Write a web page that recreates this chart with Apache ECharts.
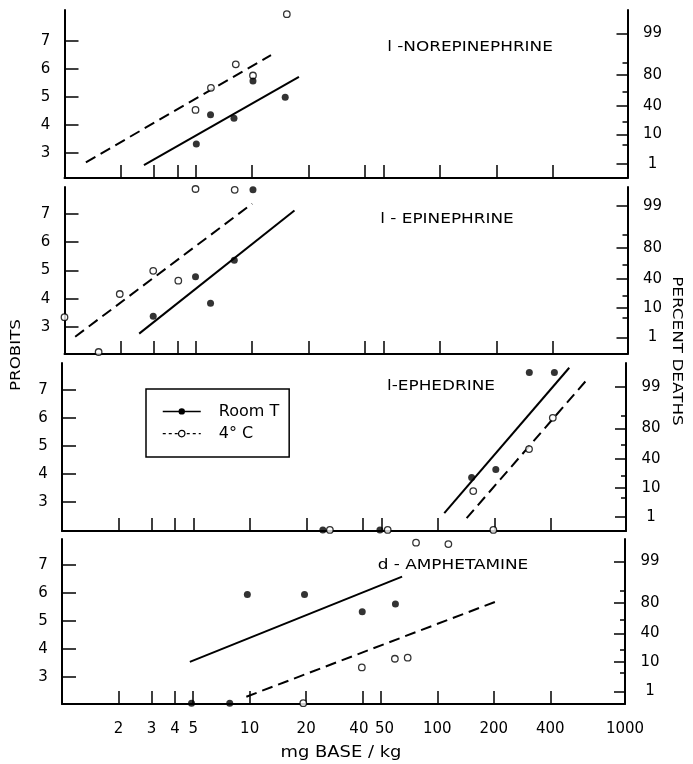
<!DOCTYPE html>
<html><head><meta charset="utf-8">
<script src="https://cdn.jsdelivr.net/npm/echarts@6/dist/echarts.min.js"></script>
<style>html,body{margin:0;padding:0;background:#fff}#c{width:693px;height:764px}</style>
</head><body><div id="c"></div>
<script>
// ---------- data (dose mg base/kg, probit) ----------
const panelNames = ['l -NOREPINEPHRINE', 'l - EPINEPHRINE', 'l-EPHEDRINE', 'd - AMPHETAMINE'];

const norepiRoomT = [[5.04,3.31],[6.0,4.36],[8.0,4.23],[10.1,5.56],[15.0,4.98]];
const norepiCold  = [[4.99,4.53],[6.03,5.32],[8.18,6.16],[10.1,5.76],[15.3,7.95]];
const norepiFitRoomT = [[2.65,2.56],[17.75,5.71]];
const norepiFitCold  = [[1.30,2.66],[12.6,6.49]];

const epiRoomT = [[2.97,3.38],[4.99,4.78],[6.0,3.84],[8.03,5.36],[10.1,7.85]];
const epiCold  = [[1.0,3.35],[1.52,2.12],[1.97,4.17],[2.97,4.99],[4.04,4.64],[4.99,7.88],[8.07,7.85]];
const epiFitRoomT = [[2.5,2.77],[16.8,7.12]];
const epiFitCold  = [[1.14,2.66],[10.0,7.36]];

const ephRoomT = [[24.4,2.0],[49.1,2.0],[151,3.87],[203,4.16],[306,7.63],[416,7.63]];
const ephCold  = [[26.6,2.0],[54,2.0],[154,3.39],[197,2.0],[305,4.89],[408,6.01]];
const ephFitRoomT = [[108,2.60],[499,7.80]];
const ephFitCold  = [[142,2.42],[623,7.39]];

const amphRoomT = [[4.9,2.05],[7.83,2.05],[9.72,5.94],[19.6,5.94],[39.8,5.32],[59.8,5.60]];
const amphCold  = [[19.3,2.05],[39.6,3.33],[59.4,3.64],[69.5,3.68],[77,7.80],[114.5,7.75]];
const amphFitRoomT = [[4.8,3.53],[64.9,6.58]];
const amphFitCold  = [[9.6,2.28],[203.6,5.68]];

const doseTicks  = [2,3,4,5,10,20,40,50,100,200,400];
const doseLabels = [2,3,4,5,10,20,40,50,100,200,400,1000];
const probitTicks = [3,4,5,6,7];
const percentLabels  = [1,10,40,80,99];
const percentProbits = [2.674,3.718,4.747,5.842,7.326];
const minorPercents  = [5,20,60,90];
const minorProbits   = [3.355,4.158,5.253,6.282];

const roomTSets = [norepiRoomT, epiRoomT, ephRoomT, amphRoomT];
const coldSets  = [norepiCold, epiCold, ephCold, amphCold];
const fitRoomTSets = [norepiFitRoomT, epiFitRoomT, ephFitRoomT, amphFitRoomT];
const fitColdSets  = [norepiFitCold, epiFitCold, ephFitCold, amphFitCold];

// ---------- layout ----------
const layout = [
  {left:64.5, right:65.5, top:10,  height:168, min:2.10, max:8.10, rOff:0.065, title:[470,47]},
  {left:64.5, right:65.5, top:187, height:167, min:2.05, max:7.95, rOff:0.035, title:[447,219]},
  {left:62,   right:67,   top:363, height:168, min:1.96, max:7.97, rOff:0.215, title:[441,386]},
  {left:62,   right:68,   top:539, height:165, min:2.02, max:7.93, rOff:0.20,  title:[453,565]}
];
const FONT = '"DejaVu Sans", "Noto Sans", sans-serif';
const BLACK = '#000';

function doseLabelText(v) {
  const s = String(Math.round(v));
  if (s === '40') return s + '\u2002';
  if (s === '50') return '\u2002' + s;
  return s;
}

const grids = [], xAxes = [], yAxes = [], series = [], graphics = [];
layout.forEach((L, i) => {
  grids.push({left:L.left, right:L.right, top:L.top, height:L.height, containLabel:false, outerBoundsMode:'none'});
  xAxes.push({
    gridIndex:i, type:'log', logBase:10, min:1, max:1000,
    axisLine:{show:true, onZero:false, lineStyle:{color:BLACK, width:2}},
    axisTick:{show:true, inside:true, length:13, customValues:doseTicks, lineStyle:{color:BLACK, width:1.5}},
    axisLabel:{show:i===3, customValues:doseLabels, margin:18, fontSize:15, color:BLACK, fontFamily:FONT,
      formatter: doseLabelText},
    splitLine:{show:false}, minorTick:{show:false}
  });
  yAxes.push({
    gridIndex:i, type:'value', position:'left', min:L.min, max:L.max,
    axisLine:{show:true, onZero:false, lineStyle:{color:BLACK, width:2}},
    axisTick:{show:true, inside:true, length:14, customValues:probitTicks, lineStyle:{color:BLACK, width:1.5}},
    axisLabel:{customValues:probitTicks, margin:19, align:'center', fontSize:15, color:BLACK, fontFamily:FONT},
    splitLine:{show:false}
  });
  yAxes.push({
    gridIndex:i, type:'value', position:'right', min:L.min + L.rOff, max:L.max + L.rOff,
    axisLine:{show:true, onZero:false, lineStyle:{color:BLACK, width:2}},
    axisTick:{show:true, inside:true, length:11, customValues:percentProbits, lineStyle:{color:BLACK, width:1.5}},
    axisLabel:{customValues:percentProbits, margin:25, align:'center', fontSize:15, color:BLACK, fontFamily:FONT,
      formatter: v => { const k = percentProbits.findIndex(p => Math.abs(p - v) < 1e-6); return k >= 0 ? String(percentLabels[k]) : ''; }},
    splitLine:{show:false}
  });
  yAxes.push({
    gridIndex:i, type:'value', position:'right', min:L.min + L.rOff, max:L.max + L.rOff,
    axisLine:{show:false, onZero:false},
    axisTick:{show:true, inside:true, length:5, customValues:minorProbits, lineStyle:{color:BLACK, width:1.5}},
    axisLabel:{show:false}, splitLine:{show:false}
  });
  graphics.push({type:'text', x:L.title[0], y:L.title[1], scaleX:1.25, silent:true,
    style:{text:panelNames[i], fill:BLACK, font:'13.5px ' + FONT, align:'center', verticalAlign:'middle'}});
});

layout.forEach((L, i) => {
  series.push({
    name:'Room T', type:'line', xAxisIndex:i, yAxisIndex:3*i, data:fitRoomTSets[i],
    symbol:'circle', symbolSize:6, showSymbol:false, silent:true, z:2,
    lineStyle:{color:BLACK, width:2}, itemStyle:{color:BLACK}
  });
  series.push({
    name:'4° C', type:'line', xAxisIndex:i, yAxisIndex:3*i, data:fitColdSets[i],
    symbol:'circle', symbolSize:6, showSymbol:false, silent:true, z:2,
    lineStyle:{color:BLACK, width:2, type:[11,6]}, itemStyle:{color:'#fff', borderColor:BLACK, borderWidth:1.2}
  });
});
layout.forEach((L, i) => {
  series.push({
    name:'Room T', type:'scatter', xAxisIndex:i, yAxisIndex:3*i, data:roomTSets[i],
    symbol:'circle', symbolSize:7, clip:false, silent:true, z:4,
    itemStyle:{color:BLACK}
  });
  series.push({
    name:'4° C', type:'scatter', xAxisIndex:i, yAxisIndex:3*i, data:coldSets[i],
    symbol:'circle', symbolSize:6.5, clip:false, silent:true, z:3,
    itemStyle:{color:'#fff', borderColor:BLACK, borderWidth:1.3}
  });
});

graphics.push({type:'text', x:16, y:355, rotation:Math.PI/2, scaleX:1.15, silent:true,
  style:{text:'PROBITS', fill:BLACK, font:'14.5px ' + FONT, align:'center', verticalAlign:'middle'}});
graphics.push({type:'text', x:677, y:351, rotation:-Math.PI/2, scaleX:1.16, silent:true,
  style:{text:'PERCENT DEATHS', fill:BLACK, font:'14.5px ' + FONT, align:'center', verticalAlign:'middle'}});
graphics.push({type:'text', x:341, y:753, scaleX:1.12, silent:true,
  style:{text:'mg BASE / kg', fill:BLACK, font:'16px ' + FONT, align:'center', verticalAlign:'middle'}});

const chart = echarts.init(document.getElementById('c'), null, {renderer:'canvas'});
chart.setOption({
  animation:false,
  backgroundColor:'#fff',
  grid:grids, xAxis:xAxes, yAxis:yAxes, series:series, graphic:graphics,
  legend:{
    show:true, orient:'vertical', left:146, top:389, selectedMode:false,
    backgroundColor:'#fff', borderColor:BLACK, borderWidth:1.5, borderRadius:0,
    padding:[14.4,10,15.4,16], itemWidth:38, itemHeight:8, itemGap:6.2,
    textStyle:{fontSize:16, color:BLACK, fontFamily:FONT, lineHeight:8, padding:[0,0,0,13]},
    data:[
      {name:'Room T', lineStyle:{width:1.5, type:'solid'}, itemStyle:{color:BLACK}},
      {name:'4° C', lineStyle:{width:1.2, type:[3,3]}, itemStyle:{color:'#fff', borderColor:BLACK, borderWidth:1.2}}
    ]
  }
});
</script></body></html>
